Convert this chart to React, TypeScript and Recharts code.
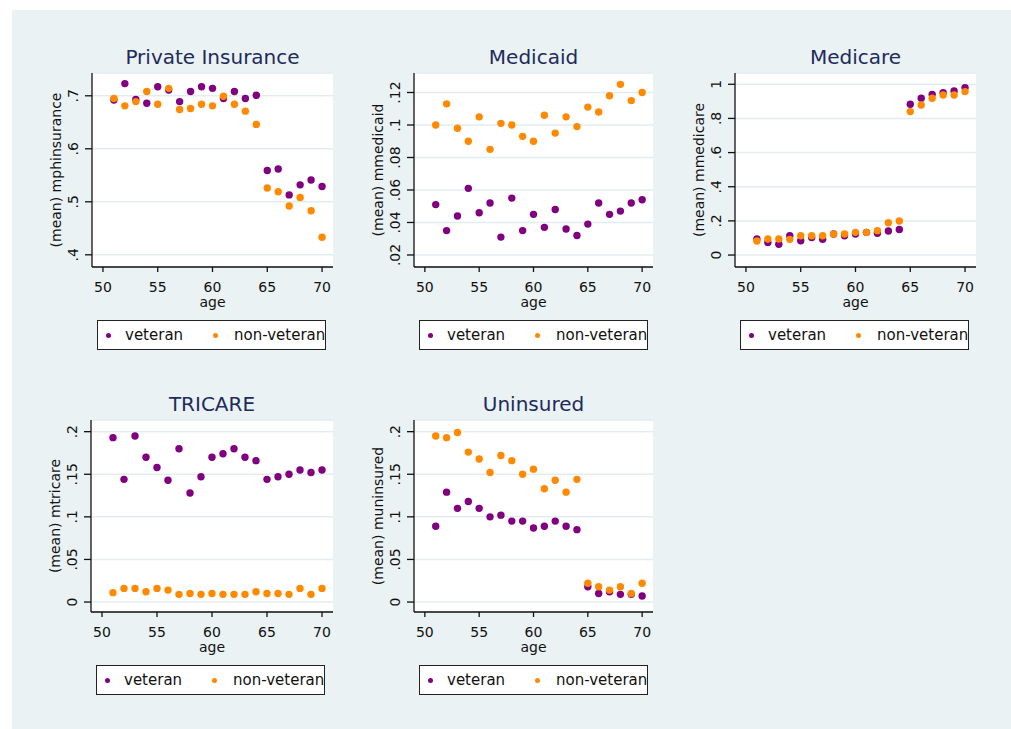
import { CartesianGrid, Legend, Scatter, ScatterChart, XAxis, YAxis } from "recharts"

const AGES = [51, 52, 53, 54, 55, 56, 57, 58, 59, 60, 61, 62, 63, 64, 65, 66, 67, 68, 69, 70]
const AGE_TICKS = [50, 55, 60, 65, 70]
const SERIES_NAMES = ["veteran", "non-veteran"]

const PRIV_VET = [0.692, 0.723, 0.693, 0.686, 0.717, 0.711, 0.689, 0.708, 0.717, 0.714, 0.695, 0.708, 0.695, 0.701, 0.559, 0.562, 0.513, 0.532, 0.541, 0.529]
const PRIV_NONVET = [0.695, 0.681, 0.689, 0.708, 0.684, 0.714, 0.674, 0.676, 0.684, 0.681, 0.699, 0.684, 0.671, 0.646, 0.526, 0.519, 0.492, 0.508, 0.483, 0.433]
const PRIV_TICKS = [0.4, 0.5, 0.6, 0.7]

const MCAID_VET = [0.051, 0.035, 0.044, 0.061, 0.046, 0.052, 0.031, 0.055, 0.035, 0.045, 0.037, 0.048, 0.036, 0.032, 0.039, 0.052, 0.045, 0.047, 0.052, 0.054]
const MCAID_NONVET = [0.1, 0.113, 0.098, 0.09, 0.105, 0.085, 0.101, 0.1, 0.093, 0.09, 0.106, 0.095, 0.105, 0.099, 0.111, 0.108, 0.118, 0.125, 0.115, 0.12]
const MCAID_TICKS = [0.02, 0.04, 0.06, 0.08, 0.1, 0.12]

const MCARE_VET = [0.094, 0.074, 0.063, 0.113, 0.084, 0.103, 0.092, 0.123, 0.113, 0.123, 0.133, 0.127, 0.141, 0.15, 0.883, 0.918, 0.941, 0.951, 0.961, 0.98]
const MCARE_NONVET = [0.082, 0.094, 0.094, 0.092, 0.113, 0.113, 0.113, 0.123, 0.123, 0.133, 0.133, 0.143, 0.189, 0.199, 0.84, 0.879, 0.918, 0.937, 0.937, 0.957]
const MCARE_TICKS = [0, 0.2, 0.4, 0.6, 0.8, 1]

const TRI_VET = [0.193, 0.144, 0.195, 0.17, 0.158, 0.143, 0.18, 0.128, 0.147, 0.17, 0.174, 0.18, 0.17, 0.166, 0.144, 0.147, 0.15, 0.155, 0.152, 0.155]
const TRI_NONVET = [0.011, 0.016, 0.016, 0.012, 0.016, 0.014, 0.009, 0.01, 0.009, 0.01, 0.009, 0.009, 0.009, 0.012, 0.01, 0.01, 0.009, 0.016, 0.009, 0.016]
const TRI_TICKS = [0, 0.05, 0.1, 0.15, 0.2]

const UNINS_VET = [0.089, 0.129, 0.11, 0.118, 0.11, 0.1, 0.102, 0.095, 0.095, 0.087, 0.089, 0.095, 0.089, 0.085, 0.018, 0.01, 0.012, 0.009, 0.009, 0.007]
const UNINS_NONVET = [0.195, 0.193, 0.199, 0.176, 0.168, 0.152, 0.172, 0.166, 0.15, 0.156, 0.133, 0.143, 0.129, 0.144, 0.022, 0.018, 0.014, 0.018, 0.01, 0.022]
const UNINS_TICKS = [0, 0.05, 0.1, 0.15, 0.2]

const VET_COLOR = "#800080"
const NONVET_COLOR = "#ff8a00"
const FONT = "'DejaVu Sans', Verdana, sans-serif"

// chart paddings around the plot area
const PAD_L = 60
const PAD_T = 50
const PAD_R = 10
const AX_H = 45
const LEG_H = 55

interface PanelSpec {
  title: string
  yLabel: string
  vet: number[]
  nonvet: number[]
  ticks: number[]
  domain: [number, number]
  left: number
  top: number
  width: number
  height: number
}

const PANELS: PanelSpec[] = [
  { title: "Private Insurance", yLabel: "(mean) mphinsurance", vet: PRIV_VET, nonvet: PRIV_NONVET, ticks: PRIV_TICKS, domain: [0.377, 0.743], left: 92, top: 73, width: 241, height: 194 },
  { title: "Medicaid", yLabel: "(mean) mmedicaid", vet: MCAID_VET, nonvet: MCAID_NONVET, ticks: MCAID_TICKS, domain: [0.0126, 0.132], left: 414, top: 73, width: 239, height: 194 },
  { title: "Medicare", yLabel: "(mean) mmedicare", vet: MCARE_VET, nonvet: MCARE_NONVET, ticks: MCARE_TICKS, domain: [-0.07, 1.066], left: 735, top: 73, width: 241, height: 194 },
  { title: "TRICARE", yLabel: "(mean) mtricare", vet: TRI_VET, nonvet: TRI_NONVET, ticks: TRI_TICKS, domain: [-0.0117, 0.2137], left: 91, top: 420, width: 242, height: 192 },
  { title: "Uninsured", yLabel: "(mean) muninsured", vet: UNINS_VET, nonvet: UNINS_NONVET, ticks: UNINS_TICKS, domain: [-0.0117, 0.2137], left: 414, top: 420, width: 239, height: 192 },
]

const fmt = (v: number) => String(Number(v.toFixed(3))).replace(/^0\./, ".")

function dot(color: string, r: number) {
  return (props: any) => <circle cx={props.cx} cy={props.cy} r={r} fill={color} />
}

function LegendBox({ payload }: any) {
  const entries = (payload ?? []) as Array<{ value: string; color: string }>
  // keep the series order (veteran first), recharts sorts by name otherwise
  const items = SERIES_NAMES.map((name) => entries.find((e) => e.value === name)).filter(Boolean) as Array<{ value: string; color: string }>
  const slots = [
    { marker: 8, text: 27 },
    { marker: 114.5, text: 136 },
  ]
  return (
    <div
      style={{
        position: "relative",
        width: "100%",
        height: "100%",
        boxSizing: "border-box",
        border: "1.5px solid #222",
        background: "#fff",
        overflow: "hidden",
        whiteSpace: "nowrap",
        fontFamily: FONT,
        fontSize: 15,
        color: "#111",
      }}
    >
      {items.map((item, i) => (
        <span key={item.value}>
          <span
            style={{
              position: "absolute",
              left: slots[i].marker,
              top: 11.5,
              width: 5,
              height: 5,
              borderRadius: "50%",
              background: item.color,
            }}
          />
          <span style={{ position: "absolute", left: slots[i].text, top: 4.5, lineHeight: "18px" }}>{item.value}</span>
        </span>
      ))}
    </div>
  )
}

function Panel({ spec }: { spec: PanelSpec }) {
  const vetData = AGES.map((age, i) => ({ age, value: spec.vet[i] }))
  const nonvetData = AGES.map((age, i) => ({ age, value: spec.nonvet[i] }))
  const chartW = PAD_L + spec.width + PAD_R
  const chartH = PAD_T + spec.height + AX_H + LEG_H
  const bottom = PAD_T + spec.height

  return (
    <div style={{ position: "absolute", left: spec.left - PAD_L, top: spec.top - PAD_T, width: chartW, height: chartH }}>
      <ScatterChart width={chartW} height={chartH} margin={{ top: PAD_T, right: PAD_R, bottom: LEG_H, left: 0 }}>
        <CartesianGrid fill="#fff" stroke="#e3edf0" strokeWidth={1.5} vertical={false} />
        <XAxis
          type="number"
          dataKey="age"
          domain={[49, 71]}
          ticks={AGE_TICKS}
          allowDataOverflow
          height={AX_H}
          stroke="#111"
          strokeWidth={1.3}
          tickSize={5}
          tick={(p: any) => (
            <text x={p.x} y={bottom + 25} textAnchor="middle" fontSize={14} fontFamily={FONT} fill="#111">
              {p.payload.value}
            </text>
          )}
          label={{
            content: () => (
              <text x={PAD_L + spec.width / 2} y={bottom + 40} textAnchor="middle" fontSize={14} fontFamily={FONT} fill="#111">
                age
              </text>
            ),
          }}
        />
        <YAxis
          type="number"
          dataKey="value"
          domain={spec.domain}
          ticks={spec.ticks}
          allowDataOverflow
          width={PAD_L}
          stroke="#111"
          strokeWidth={1.3}
          tickSize={7}
          tick={(p: any) => (
            <text
              x={PAD_L - 14}
              y={p.y}
              transform={`rotate(-90, ${PAD_L - 14}, ${p.y})`}
              textAnchor="middle"
              fontSize={14}
              fontFamily={FONT}
              fill="#111"
            >
              {fmt(p.payload.value)}
            </text>
          )}
          label={{
            content: () => {
              const cy = PAD_T + spec.height / 2
              const x = PAD_L - 31
              return (
                <text x={x} y={cy} transform={`rotate(-90, ${x}, ${cy})`} textAnchor="middle" fontSize={14} fontFamily={FONT} fill="#111">
                  {spec.yLabel}
                </text>
              )
            },
          }}
        />
        <Legend
          layout="horizontal"
          verticalAlign="middle"
          align="center"
          wrapperStyle={{ left: PAD_L + 5, top: bottom + 53, width: 229, height: 30 }}
          content={<LegendBox />}
        />
        <Scatter name={SERIES_NAMES[0]} data={vetData} fill={VET_COLOR} shape={dot(VET_COLOR, 3.7)} isAnimationActive={false} />
        <Scatter name={SERIES_NAMES[1]} data={nonvetData} fill={NONVET_COLOR} shape={dot(NONVET_COLOR, 3.7)} isAnimationActive={false} />
      </ScatterChart>
      <div
        style={{
          position: "absolute",
          left: PAD_L - 40,
          width: spec.width + 80,
          top: PAD_T - 16 - 12,
          height: 24,
          lineHeight: "24px",
          textAlign: "center",
          fontFamily: FONT,
          fontSize: 20,
          color: "#1e2b5c",
          pointerEvents: "none",
        }}
      >
        {spec.title}
      </div>
    </div>
  )
}

export default function App() {
  return (
    <div style={{ position: "absolute", left: 0, top: 0, width: 1011, height: 729, background: "#fff", overflow: "hidden" }}>
      <div style={{ position: "absolute", left: 12, top: 10, width: 999, height: 719, background: "#eaf2f3" }} />
      {PANELS.map((spec) => (
        <Panel key={spec.title} spec={spec} />
      ))}
    </div>
  )
}
